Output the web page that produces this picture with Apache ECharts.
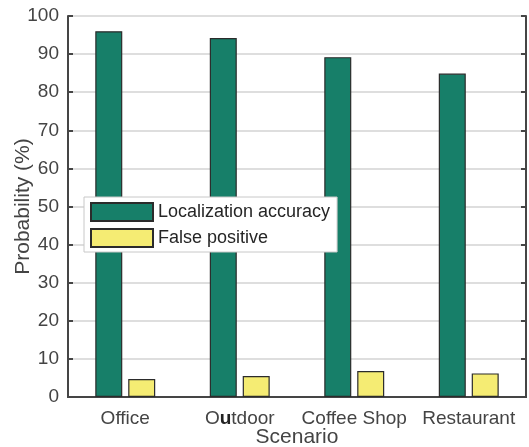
<!DOCTYPE html>
<html>
<head>
<meta charset="utf-8">
<style>
  html, body { margin: 0; padding: 0; background: #ffffff; }
  #chart { width: 529px; height: 447px; }
</style>
<script src="https://cdn.jsdelivr.net/npm/echarts@6/dist/echarts.min.js"></script>
</head>
<body>
<div id="chart"></div>
<script>
// Scenario categories and measured probabilities (%)
const categories = ['Office', 'Outdoor', 'Coffee Shop', 'Restaurant'];
const localizationAccuracy = [96.0, 94.2, 89.2, 84.9];
const falsePositive = [4.7, 5.5, 6.8, 6.2];
const yTicks = [0, 10, 20, 30, 40, 50, 60, 70, 80, 90, 100];

const axisColor = '#454545';
const textColor = '#444444';
const font = 'Liberation Sans, Arial, sans-serif';

const chart = echarts.init(document.getElementById('chart'), null, { renderer: 'canvas' });

chart.setOption({
  animation: false,
  backgroundColor: '#ffffff',
  textStyle: { fontFamily: font },
  grid: { left: 68, right: 3, top: 16, bottom: 50, containLabel: false, outerBoundsMode: 'none' },
  legend: {
    orient: 'vertical',
    left: 84,
    top: 197,
    icon: 'rect',
    itemWidth: 62,
    itemHeight: 18,
    itemGap: 6,
    padding: [5, 7, 4, 6],
    backgroundColor: '#ffffff',
    borderColor: '#c8c8c8',
    borderWidth: 1,
    textStyle: { fontFamily: font, fontSize: 18, color: '#262626' },
    data: ['Localization accuracy', 'False positive']
  },
  xAxis: [
    {
      type: 'category',
      data: categories,
      position: 'bottom',
      name: 'Scenario',
      nameLocation: 'middle',
      nameGap: 30,
      nameMoveOverlap: false,
      nameTextStyle: { fontFamily: font, fontSize: 21, color: textColor },
      axisLine: { lineStyle: { color: axisColor, width: 2 } },
      axisTick: { alignWithLabel: true, inside: true, length: 4, lineStyle: { color: axisColor, width: 2 } },
      axisLabel: {
        interval: 0,
        fontFamily: font, fontSize: 19, color: textColor, margin: 12,
        formatter: function (v) {
          return v === 'Outdoor' ? 'O{b|u}tdoor' : v;
        },
        rich: { b: { fontFamily: font, fontSize: 19, fontWeight: 'bold', color: '#222222' } }
      },
      splitLine: { show: false }
    },
    {
      type: 'category',
      data: categories,
      position: 'top',
      axisLine: { lineStyle: { color: axisColor, width: 2 } },
      axisTick: { alignWithLabel: true, inside: true, length: 5, lineStyle: { color: axisColor, width: 2 } },
      axisLabel: { show: false },
      splitLine: { show: false }
    }
  ],
  yAxis: [
    {
      type: 'value',
      min: 0,
      max: 100,
      interval: 10,
      position: 'left',
      name: 'Probability (%)',
      nameLocation: 'middle',
      nameGap: 34,
      nameMoveOverlap: false,
      nameTextStyle: { fontFamily: font, fontSize: 21, color: textColor },
      axisLine: { show: true, lineStyle: { color: axisColor, width: 2 } },
      axisTick: { show: true, inside: true, length: 5, lineStyle: { color: axisColor, width: 2 } },
      axisLabel: {
        fontFamily: font, fontSize: 19, color: textColor, margin: 9,
        formatter: function (v) { return yTicks.indexOf(v) >= 0 ? String(v) : ''; }
      },
      splitLine: { show: true, lineStyle: { color: '#dedede', width: 2 } }
    },
    {
      type: 'value',
      min: 0,
      max: 100,
      interval: 10,
      position: 'right',
      axisLine: { show: true, lineStyle: { color: axisColor, width: 2 } },
      axisTick: { show: true, inside: true, length: 5, lineStyle: { color: axisColor, width: 2 } },
      axisLabel: { show: false },
      splitLine: { show: false }
    }
  ],
  series: [
    {
      name: 'Localization accuracy',
      type: 'bar',
      data: localizationAccuracy,
      barWidth: 27,
      barGap: '22%',
      itemStyle: { color: '#177f69', borderColor: '#2b2b2b', borderWidth: 1.2 }
    },
    {
      name: 'False positive',
      type: 'bar',
      data: falsePositive,
      barWidth: 27,
      barGap: '22%',
      itemStyle: { color: '#f5ec73', borderColor: '#2b2b2b', borderWidth: 1.2 }
    }
  ]
});
</script>
</body>
</html>
